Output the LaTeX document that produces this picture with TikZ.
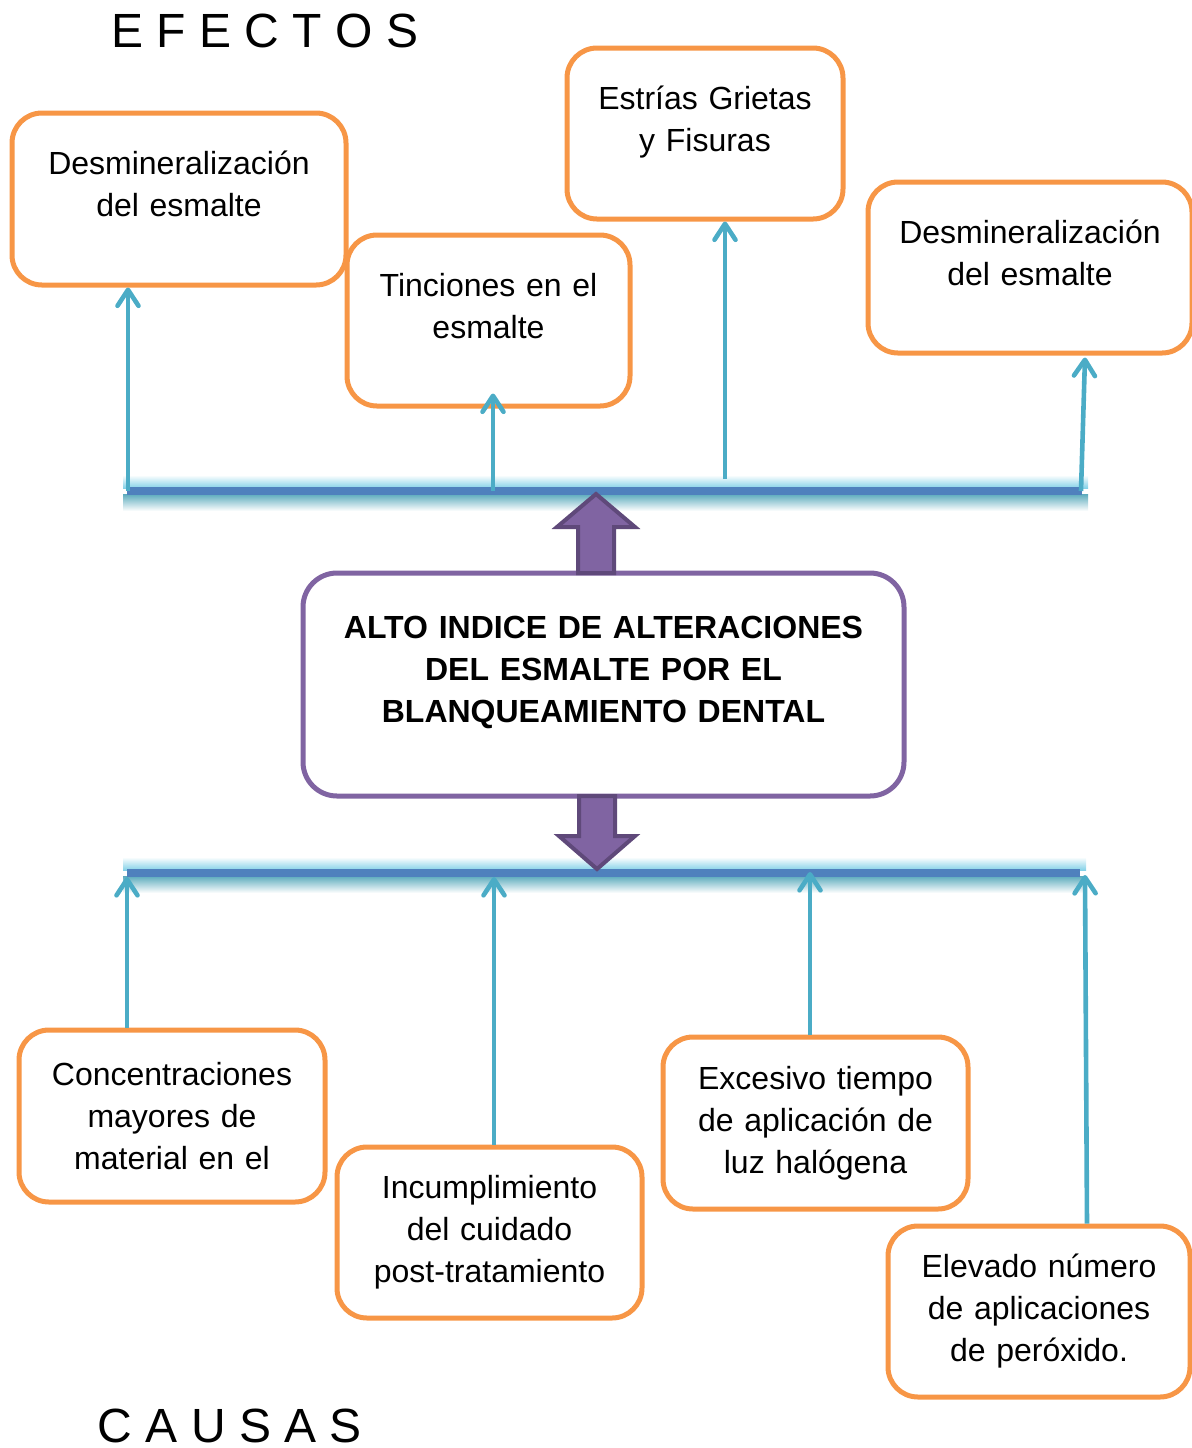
\documentclass[tikz,border=0pt]{standalone}
\usepackage{fontspec}
\setmainfont{Liberation Sans}
\usepackage{tikz}
\usetikzlibrary{arrows.meta}
\usetikzlibrary{positioning}
\usetikzlibrary{calc}
\definecolor{boxorange}{HTML}{F79646}
\definecolor{boxpurple}{HTML}{8064A2}
\definecolor{darkpurple}{HTML}{5F497A}
\definecolor{linkblue}{HTML}{4BACC6}
\definecolor{barblue}{HTML}{4F81BD}
\definecolor{glowcyan}{HTML}{84D2E8}
\definecolor{glowteal}{HTML}{5CABBD}
\tikzstyle{effect}=[draw=boxorange,line width=2.5pt,rounded corners=15pt,fill=white,align=center,inner sep=0pt]
\tikzstyle{problem}=[draw=boxpurple,line width=2.5pt,rounded corners=17pt,fill=white,align=center,inner sep=0pt,font=\fontsize{16}{21}\selectfont\bfseries]
\tikzstyle{feed}=[draw=linkblue,line width=2.3pt,-{Straight Barb[length=8pt,width=10.5pt,round]}]
\tikzstyle{bar}=[draw=barblue,line width=4pt]
\tikzstyle{bigarrow}=[fill=boxpurple,draw=darkpurple,line width=2pt,line join=miter]
\tikzstyle{heading}=[font=\fontsize{24}{28}\selectfont,anchor=base,inner sep=0pt]
\newcommand{\padtext}{\rule[-15pt]{0pt}{15pt}}

\begin{document}
\begin{tikzpicture}[x=0.5pt,y=-0.5pt,font=\fontsize{16}{21}\selectfont]
\useasboundingbox (0,0) rectangle (1192,1448);

% headings
\node[heading] (efectos) at (265,47) {E F E C T O S};
\node[heading] (causas) at (230,1442) {C A U S A S};

% effects
\node[effect,minimum width=167pt,minimum height=86pt,text width=155pt] (e1) at (179,199) {Desmineralización\\del esmalte\padtext};
\node[effect,minimum width=141.5pt,minimum height=85.5pt,text width=130pt] (e2) at (488.5,320.5) {Tinciones en el\\esmalte\padtext};
\node[effect,minimum width=138pt,minimum height=85.5pt,text width=126pt] (e3) at (705,133.5) {Estrías Grietas\\y Fisuras\padtext};
\node[effect,minimum width=162pt,minimum height=85.5pt,text width=150pt] (e4) at (1030,267.5) {Desmineralización\\del esmalte\padtext};

% main problem
\node[problem,minimum width=300.5pt,minimum height=111.5pt,text width=285pt] (mid) at (603.5,684.5) {ALTO INDICE DE ALTERACIONES\\DEL ESMALTE POR EL\\BLANQUEAMIENTO DENTAL\padtext};

% causes
\node[effect,minimum width=153pt,minimum height=86pt,text width=141pt] (c1) at (172,1116) {Concentraciones\\mayores de\\material en el};
\node[effect,minimum width=152.5pt,minimum height=85.5pt,text width=140pt] (c2) at (489.5,1232.5) {Incumplimiento\\del cuidado\\post-tratamiento};
\node[effect,minimum width=152.5pt,minimum height=86pt,text width=140pt] (c3) at (815.5,1123) {Excesivo tiempo\\de aplicación de\\luz halógena};
\node[effect,minimum width=151pt,minimum height=85.5pt,text width=140pt] (c4) at (1039,1311.5) {Elevado número\\de aplicaciones\\de peróxido.};

% bars
\coordinate (tl) at (127,491);
\coordinate (tr) at (1082,491);
\coordinate (bl) at (127,873);
\coordinate (br) at (1080,873);
\foreach \a/\b in {tl/tr,bl/br}{
  \shade[top color=white,bottom color=glowcyan] ($(\a)+(-4,-16)$) rectangle ($(\b)+(6,-3)$);
  \shade[top color=glowteal,bottom color=white] ($(\a)+(-4,3)$) rectangle ($(\b)+(6,20)$);
  \draw[bar] (\a) -- (\b);
}

% effect links
\coordinate (t1) at (128,491);
\coordinate (t2) at (493,491);
\coordinate (t3) at (725,479);
\coordinate (t4) at (1081,491);
\draw[feed] (t1) -- (t1 |- e1.south);
\draw[feed] (t2) -- ($(t2 |- e2.south)+(0,-15)$);
\draw[feed] (t3) -- (t3 |- e3.south);
\draw[feed] (t4) -- ($(t4 |- e4.south)+(4,2)$);

% cause links
\coordinate (u1) at (127,877);
\coordinate (u2) at (494,877);
\coordinate (u3) at (810,872);
\coordinate (u4) at (1085,875);
\draw[feed] (u1 |- c1.north) -- (u1);
\draw[feed] (u2 |- c2.north) -- (u2);
\draw[feed] (u3 |- c3.north) -- (u3);
\draw[feed] ($(u4 |- c4.north)+(2,0)$) -- (u4);

% block arrows
\coordinate (upT) at (596,573);
\coordinate (dnT) at (597,796);
\draw[bigarrow] ($(upT)+(-18,0)$) -- ++(0,-46) -- ++(-21,0) -- ++(39,-33) -- ++(39,33) -- ++(-21,0) -- ++(0,46) -- cycle;
\draw[bigarrow] ($(dnT)+(-18,0)$) -- ++(0,40) -- ++(-20,0) -- ++(38,33) -- ++(38,-33) -- ++(-20,0) -- ++(0,-40) -- cycle;

\end{tikzpicture}
\end{document}
